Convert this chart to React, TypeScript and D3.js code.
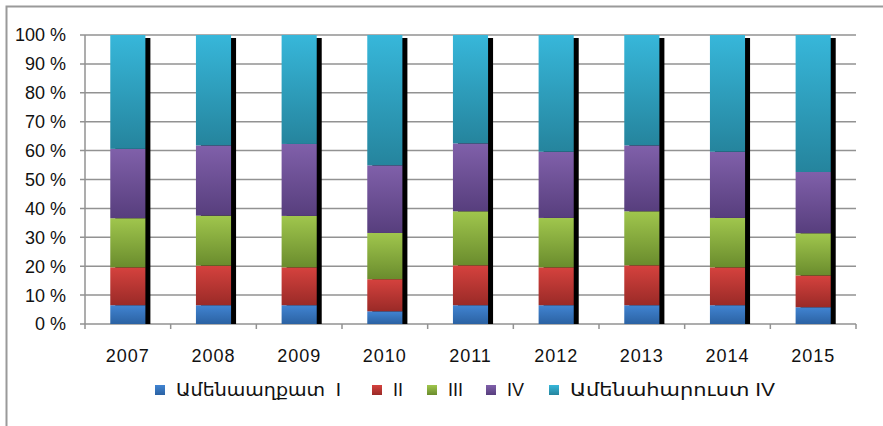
import React from "react";
import * as d3 from "d3";

const years = ["2007", "2008", "2009", "2010", "2011", "2012", "2013", "2014", "2015"];
const seriesNames = ["Ամենաաղքատ  I", "II", "III", "IV", "Ամենահարուստ IV"];
const poorest = [6.5, 6.5, 6.5, 4.4, 6.5, 6.5, 6.5, 6.5, 5.8];
const second = [13.1, 13.7, 13.1, 11.1, 13.8, 13.1, 13.8, 13.1, 11.0];
const third = [17.0, 17.3, 17.8, 16.0, 18.7, 17.1, 18.7, 17.1, 14.6];
const fourth = [24.0, 24.3, 24.9, 23.4, 23.5, 22.9, 22.8, 22.9, 21.2];
const richest = [39.4, 38.2, 37.7, 45.1, 37.5, 40.4, 38.2, 40.4, 47.4];
const yTicks = [0, 0.1, 0.2, 0.3, 0.4, 0.5, 0.6, 0.7, 0.8, 0.9, 1];

const gradients = [
  ["#4184d2", "#2b62a3"],
  ["#d5423e", "#9a2a27"],
  ["#a0c64d", "#6a8c2d"],
  ["#8060aa", "#573e7d"],
  ["#37b7da", "#25849d"],
];
const legendX = [155, 372, 427, 486, 549];
// only the Armenian labels get stretched to the reference width
const legendLen = [165, 0, 0, 0, 205];

const W = 883;
const H = 426;
const left = 85;
const right = 856;
const top = 35;
const bottom = 324;

export default function App() {
  const keys = ["s0", "s1", "s2", "s3", "s4"];
  const all = [poorest, second, third, fourth, richest];
  const rows = years.map((y, i) => {
    const total = d3.sum(all, (s) => s[i]);
    const r: any = { year: y };
    keys.forEach((k, j) => (r[k] = all[j][i] / total));
    return r;
  });
  const stacked = d3.stack().keys(keys)(rows);

  const x = d3
    .scaleBand()
    .domain(years)
    .range([left, right])
    .paddingInner(0.59)
    .paddingOuter(0.295);
  const yS = d3.scaleLinear().domain([0, 1]).range([bottom, top]);
  const step = x.step();
  const bw = x.bandwidth();
  const boundaries = d3.range(years.length + 1).map((i) => left + i * step);
  const font = "'Liberation Sans', Arial, 'DejaVu Sans', sans-serif";

  return (
    <svg
      width={W}
      height={H}
      style={{ position: "absolute", left: 0, top: 0, background: "#fff" }}
      fontFamily={font}
    >
      <defs>
        {gradients.map((g, i) => (
          <linearGradient key={i} id={`g${i}`} x1="0" y1="0" x2="0" y2="1">
            <stop offset="0" stopColor={g[0]} />
            <stop offset="1" stopColor={g[1]} />
          </linearGradient>
        ))}
      </defs>
      <rect x={6.5} y={6.5} width={W} height={H} fill="none" stroke="#9a9a9a" strokeWidth={2} />

      {yTicks.map((t) => (
        <g key={t}>
          <line x1={left - 5} x2={right} y1={yS(t)} y2={yS(t)} stroke="#929292" strokeWidth={1.5} />
          <text x={66} y={yS(t)} dy="0.36em" textAnchor="end" fontSize={18} fill="#111">
            {`${Math.round(t * 100)} %`}
          </text>
        </g>
      ))}
      <line x1={left} x2={left} y1={top} y2={bottom} stroke="#929292" strokeWidth={1.5} />
      {boundaries.map((b, i) => (
        <line key={i} x1={b} x2={b} y1={bottom} y2={bottom + 5} stroke="#929292" strokeWidth={1.5} />
      ))}

      {years.map((yr) => {
        const x0 = x(yr) as number;
        return (
          <rect
            key={yr}
            x={x0 + 5}
            y={yS(1) + 3}
            width={bw}
            height={bottom - yS(1) - 3}
            fill="#000"
          />
        );
      })}

      {stacked.map((s, i) => (
        <g key={s.key}>
          {s.map((d: any) => (
            <rect
              key={d.data.year}
              x={x(d.data.year)}
              y={yS(d[1])}
              width={bw}
              height={yS(d[0]) - yS(d[1])}
              fill={`url(#g${i})`}
            />
          ))}
        </g>
      ))}

      {years.map((yr) => (
        <text
          key={yr}
          x={(x(yr) as number) + bw / 2}
          y={362}
          textAnchor="middle"
          fontSize={18}
          letterSpacing={1}
          fill="#111"
        >
          {yr}
        </text>
      ))}

      {seriesNames.map((n, i) => (
        <g key={n} transform={`translate(${legendX[i]},390)`}>
          <rect x={0} y={-5} width={10} height={10} fill={`url(#g${i})`} />
          <text
            x={21}
            y={0}
            dy="0.36em"
            fontSize={18}
            fill="#111"
            style={{ whiteSpace: "pre" }}
            textLength={legendLen[i] || undefined}
            lengthAdjust="spacingAndGlyphs"
          >
            {n}
          </text>
        </g>
      ))}
    </svg>
  );
}
